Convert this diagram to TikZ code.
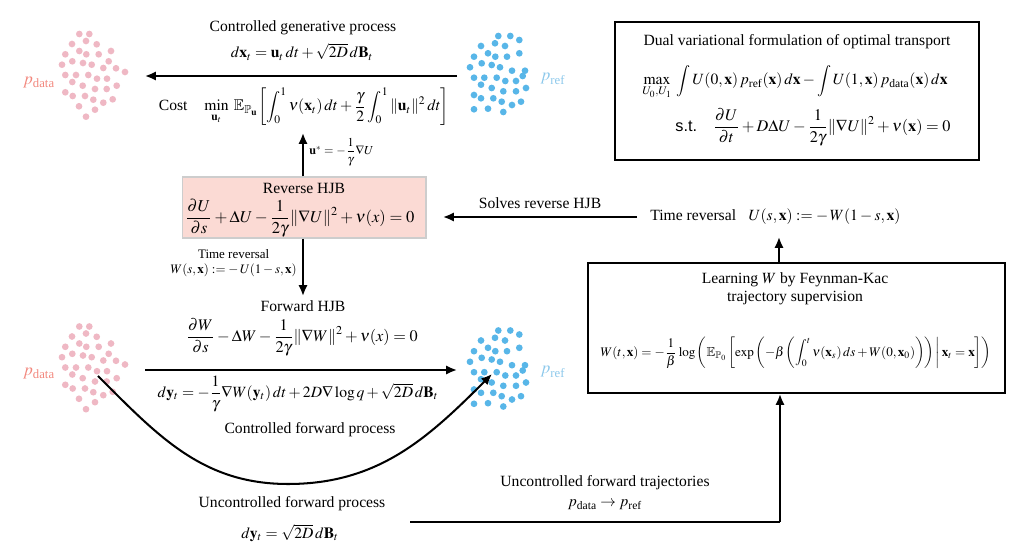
\documentclass[tikz,border=0pt]{standalone}
\usepackage{amsmath}
\usepackage{amssymb}
\usepackage{mathptmx}
\usepackage[no-math]{fontspec}
\setmainfont{Liberation Serif}
\setsansfont{Liberation Sans}
\usetikzlibrary{arrows.meta}
\definecolor{dotpink}{RGB}{239,184,196}
\definecolor{labpink}{RGB}{242,135,125}
\definecolor{dotblue}{RGB}{88,182,232}
\definecolor{labblue}{RGB}{140,200,235}
\definecolor{hjbfill}{RGB}{251,218,212}
\definecolor{hjbline}{RGB}{205,205,205}
\def\pinkdots{79.3/34,89.3/34,86/41,72/44,96.7/44.3,79.3/51,65.3/54.3,86.3/54.3,98.7/54.3,111/51,72.3/61.3,83/63,91.7/64.7,62/64.7,108.7/61.3,103.3/68,116/68.3,125/72,65.3/75,76/75,88.3/75,97/78.7,107/78.7,72.3/82,82.7/85.7,116.7/85.7,95/89,106.7/89,65.3/92.3,72.7/96,85/96,93.3/99.7,103.3/102.7,112.7/99.3,79/106.3,95/109.7,86/116.7}
\def\bluedots{498.3/36,510.3/36,519.3/40,481/46,495/43.3,505/46,488/53.3,495.3/56.7,507/56.7,519.3/53.3,474/56.7,481.7/63.3,491.7/65,500/67.3,470/67.3,512/70.7,525/70.7,474/77.7,484.3/77.7,496.7/77.7,505.3/81,516/81,522.7/76,481/84.7,491.7/88,503.3/91.3,516/91.3,526/88,474/95,481/98.3,493.3/98.3,501.7/101.7,512/105,521/101.7,474/109.3,488/108.7,503.3/112}
\begin{document}
\begin{tikzpicture}[x=0.64pt,y=-0.64pt,
  every node/.style={inner sep=0pt, font=\fontsize{10}{12}\selectfont},
  arr/.style={line width=1.3pt,-{Latex[length=7pt,width=6pt]}},
  plain/.style={line width=1.3pt},
  smalltxt/.style={font=\fontsize{8.3}{10}\selectfont},
  tinytxt/.style={font=\fontsize{7.8}{9}\selectfont},
  frame/.style={draw, line width=1.3pt, inner sep=0pt},
  hjb/.style={draw=hjbline, fill=hjbfill, line width=0.8pt, inner sep=0pt},
  datalab/.style={text=labpink, font=\fontsize{11}{13}\selectfont},
  reflab/.style={text=labblue, font=\fontsize{11}{13}\selectfont}]
\useasboundingbox (0,0) rectangle (1030,555);

% point clouds
\foreach \dy in {0,292.5}{
  \foreach \px/\py in \pinkdots { \fill[dotpink] (\px,\py+\dy) circle[radius=2.15pt]; }
}
\foreach \dy in {0,294.5}{
  \foreach \px/\py in \bluedots { \fill[dotblue] (\px,\py+\dy) circle[radius=2.15pt]; }
}
\node[datalab] (pdT) at (39,83) {$p_{\text{data}}$};
\node[datalab] (pdB) at (39,374) {$p_{\text{data}}$};
\node[reflab] (prT) at (553,79) {$p_{\text{ref}}$};
\node[reflab] (prB) at (553,372) {$p_{\text{ref}}$};

% top: controlled generative process
\node (cgp) at (303,28) {Controlled generative process};
\node (eqx) at (302,52) {$d\mathbf{x}_t = \mathbf{u}_t\,dt + \sqrt{2D}\,d\mathbf{B}_t$};
\coordinate (topR) at (457,76);
\coordinate (topL) at (145,76);
\draw[arr] (topR) -- (topL);
\node (cost) at (304,107) {Cost\;\;\; $\displaystyle\min_{\mathbf{u}_t}\;\mathbb{E}_{\mathbb{P}_{\mathbf{u}}}\!\left[\int_0^1 \nu(\mathbf{x}_t)\,dt + \frac{\gamma}{2}\int_0^1 \|\mathbf{u}_t\|^2\,dt\right]$};

% reverse HJB
\node[hjb, minimum width=156pt, minimum height=39pt] (rev) at (304,207.5) {};
\node (revt) at (304,188) {Reverse HJB};
\node[font=\fontsize{10.6}{12}\selectfont] (reveq) at (300,218) {$\displaystyle\frac{\partial U}{\partial s} + \Delta U - \frac{1}{2\gamma}\|\nabla U\|^2 + \nu(x) = 0$};
\coordinate (ustar) at (303,133);
\draw[arr] (rev.north -| ustar) -- (ustar);
\node[tinytxt, anchor=west] (ulab) at (309,152) {$\mathbf{u}^* = -\dfrac{1}{\gamma}\nabla U$};

% time reversal down
\coordinate (fwdtop) at (303,296);
\draw[arr] (rev.south -| fwdtop) -- (fwdtop);
\node[smalltxt, align=center, anchor=east] (trL) at (297,263) {Time reversal\\$W(s,\mathbf{x}) := -\,U(1-s,\mathbf{x})$};

% forward HJB
\node (fhjb) at (303,306) {Forward HJB};
\node[font=\fontsize{10.4}{12}\selectfont] (fwdeq) at (302,337) {$\displaystyle\frac{\partial W}{\partial s} - \Delta W - \frac{1}{2\gamma}\|\nabla W\|^2 + \nu(x) = 0$};
\coordinate (fwL) at (145,370);
\coordinate (fwR) at (457,370);
\draw[arr] (fwL) -- (fwR);
\node (dyeq) at (298,394) {$d\mathbf{y}_t = -\dfrac{1}{\gamma}\nabla W(\mathbf{y}_t)\,dt + 2D\nabla\log q + \sqrt{2D}\,d\mathbf{B}_t$};
\node (cfp) at (310,430) {Controlled forward process};

% uncontrolled curve
\coordinate (cvS) at (98,376);
\coordinate (cvM) at (288,484);
\coordinate (cvE) at (492,374);
\draw[arr] (cvS) to[out=-45,in=180] (cvM) to[out=0,in=-135] (cvE);
\node (ufp) at (292,504) {Uncontrolled forward process};
\node (ufeq) at (290,533) {$d\mathbf{y}_t = \sqrt{2D}\,d\mathbf{B}_t$};

% learning box
\node[frame, minimum width=266.9pt, minimum height=83.2pt] (learn) at (796.5,328) {};
\node (lt1) at (795,280) {Learning $W$ by Feynman-Kac};
\node (lt2) at (795,298) {trajectory supervision};
\node[font=\fontsize{8.4}{10}\selectfont] (fk) at (796,353) {$W(t,\mathbf{x}) = -\dfrac{1}{\beta}\log\left(\mathbb{E}_{\mathbb{P}_0}\left[\exp\left(-\beta\left(\displaystyle\int_0^t \nu(\mathbf{x}_s)\,ds + W(0,\mathbf{x}_0)\right)\right)\,\middle|\,\mathbf{x}_t = \mathbf{x}\right]\right)$};

% bottom path into learning box
\coordinate (bl) at (410,522);
\coordinate (br) at (780,522);
\draw[plain] (bl) -- (br);
\draw[arr] (br) -- (br |- learn.south);
\node (uft) at (605,483) {Uncontrolled forward trajectories};
\node (ufm) at (605,505) {$p_{\text{data}} \to p_{\text{ref}}$};

% time reversal right
\node[anchor=west] (trR) at (650,217) {Time reversal\;\; $U(s,\mathbf{x}) := -\,W(1-s,\mathbf{x})$};
\coordinate (trRb) at (779,237);
\draw[arr] (learn.north -| trRb) -- (trRb);
\coordinate (solR) at (637,217);
\coordinate (solL) at (443,217);
\draw[arr] (solR) -- (solL);
\node (sol) at (540,203) {Solves reverse HJB};

% dual box
\node[frame, minimum width=233pt, minimum height=88.3pt] (dual) at (797,91) {};
\node (dt) at (797,42) {Dual variational formulation of optimal transport};
\node (dmax) at (795,82) {$\displaystyle\max_{U_0,U_1}\;\int U(0,\mathbf{x})\,p_{\text{ref}}(\mathbf{x})\,d\mathbf{x} - \int U(1,\mathbf{x})\,p_{\text{data}}(\mathbf{x})\,d\mathbf{x}$};
\node[font=\fontsize{10.4}{12}\selectfont] (dst) at (813,127) {{\sffamily s.t.}\quad $\displaystyle\frac{\partial U}{\partial t} + D\Delta U - \frac{1}{2\gamma}\|\nabla U\|^2 + \nu(\mathbf{x}) = 0$};
\end{tikzpicture}
\end{document}
